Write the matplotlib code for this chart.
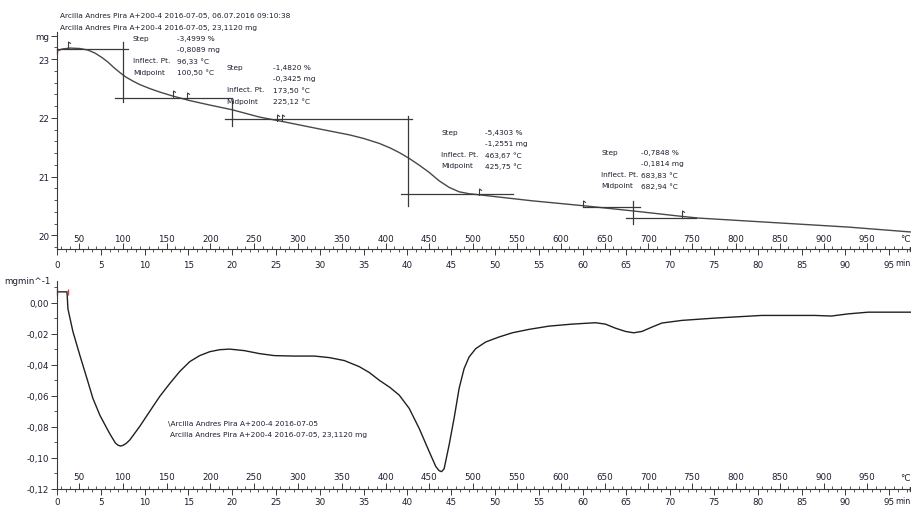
import numpy as np
import matplotlib
matplotlib.use("Agg")
import matplotlib.pyplot as plt
from matplotlib.path import Path
from matplotlib.ticker import MultipleLocator, FixedLocator, FuncFormatter

plt.rcParams['font.family'] = ['DejaVu Sans']

# Heating program: start 25 °C, 10 K/min
T_START = 25.0
RATE = 10.0


def t_to_T(t):
    return T_START + RATE * np.asarray(t, dtype=float)


def T_to_t(T):
    return (np.asarray(T, dtype=float) - T_START) / RATE


# ---- TGA: sample mass (mg) against time (min)
tga_time = [0.0, 0.57, 1.48, 2.62, 3.53, 4.33, 5.13, 5.81, 6.49, 7.18, 7.86, 8.66,
            9.45, 10.59, 11.73, 13.21, 15.15, 17.43, 19.93, 23.1, 26.0, 30.0,
            33.4, 35.0, 36.8, 38.0, 39.07, 40.21, 41.34, 42.48, 43.62, 44.76,
            45.9, 47.04, 48.18, 50.46, 54.21, 60.14, 65.6, 71.3, 73.23, 78.9,
            84.6, 90.3, 97.4]
tga_mass = [23.136, 23.170, 23.187, 23.179, 23.153, 23.102, 23.026, 22.949,
            22.855, 22.770, 22.694, 22.626, 22.566, 22.498, 22.439, 22.371,
            22.294, 22.218, 22.140, 22.014, 21.930, 21.810, 21.710, 21.650,
            21.565, 21.490, 21.410, 21.310, 21.197, 21.073, 20.930, 20.818,
            20.743, 20.710, 20.692, 20.653, 20.590, 20.505, 20.420, 20.325,
            20.296, 20.245, 20.194, 20.143, 20.060]

# ---- DTG: first derivative (mg/min) against time (min)
dtg_time = [0.0, 1.14, 1.25, 1.82, 2.62, 3.42, 4.10, 4.90, 5.69, 6.09, 6.38, 6.66,
            6.95, 7.24, 7.52, 7.9, 8.31, 9.45, 10.59, 11.73, 12.87, 14.0, 15.15,
            16.29, 17.43, 18.56, 19.7, 21.4, 23.1, 24.8, 27.1, 29.4, 31.1, 32.8,
            34.5, 35.65, 36.79, 38.0, 39.07, 40.2, 41.34, 42.48, 43.24, 43.62,
            43.9, 44.19, 44.76, 45.33, 45.9, 46.47, 47.04, 47.8, 48.94, 50.46,
            51.97, 53.87, 56.15, 58.8, 61.47, 62.6, 63.74, 64.88, 65.83, 66.78,
            67.92, 69.05, 71.33, 75.13, 80.45, 86.53, 88.4, 90.3, 92.6, 97.5]
dtg_rate = [0.0071, 0.0071, -0.0039, -0.0186, -0.0340, -0.0488, -0.0616, -0.0725,
            -0.0809, -0.0850, -0.0877, -0.0903, -0.0917, -0.0923, -0.0919,
            -0.0906, -0.0884, -0.0796, -0.0699, -0.0603, -0.0520, -0.0443,
            -0.0379, -0.0340, -0.0315, -0.0302, -0.0298, -0.0308, -0.0327,
            -0.0340, -0.0343, -0.0343, -0.0353, -0.0372, -0.0411, -0.0449,
            -0.0499, -0.0545, -0.0595, -0.0680, -0.0809, -0.0958, -0.1055,
            -0.1082, -0.1088, -0.1070, -0.0916, -0.0744, -0.0552, -0.0424,
            -0.0349, -0.0295, -0.0252, -0.0220, -0.0193, -0.0171, -0.0150,
            -0.0137, -0.0128, -0.0137, -0.0163, -0.0184, -0.0193, -0.0184,
            -0.0156, -0.0130, -0.0113, -0.0098, -0.0081, -0.0081, -0.0085,
            -0.0071, -0.0060, -0.0060]

# ---- Step evaluations
step_pct = ["-3,4999 %", "-1,4820 %", "-5,4303 %", "-0,7848 %"]
step_mg = ["-0,8089 mg", "-0,3425 mg", "-1,2551 mg", "-0,1814 mg"]
step_inflect = ["96,33 °C", "173,50 °C", "463,67 °C", "683,83 °C"]
step_mid_T = [100.50, 225.12, 425.75, 682.94]
# left/right baseline levels (mg) and their extents (min)
base_left_mg = [23.17, 22.335, 21.985, 20.48]
base_right_mg = [22.335, 21.985, 20.71, 20.30]
base_left_t = [(0.0, 8.1), (None, None), (None, None), (60.1, 66.5)]
base_right_t = [(6.6, 19.93), (19.2, 40.5), (39.3, 52.0), (65.0, 72.9)]
vert_span_mg = [(23.29, 22.27), (22.29, 21.86), (22.03, 20.50), (20.585, 20.19)]
# text block anchors (time, mass)
block_t = [8.66, 19.36, 43.85, 62.1]
block_val_t = [13.67, 24.6, 48.86, 66.65]
block_mg = [23.357, 22.864, 21.76, 21.42]

# evaluation limit flags on the TGA curve
flag_time = [1.25, 13.2, 14.8, 25.1, 25.7, 48.2, 60.1, 71.3]
flag_mass = [23.215, 22.37, 22.34, 21.975, 21.96, 20.715, 20.51, 20.33]

sample = "Arcilla Andres Pira A+200-4 2016-07-05"
header = [sample + ", 06.07.2016 09:10:38", sample + ", 23,1120 mg"]
curve_names = ["\\" + sample, sample + ", 23,1120 mg"]

INK = '#1e1e30'
LINE = '#3a3a3a'
TICK_FS = 6.3
NOTE_FS = 5.35

W, H = 912, 506
fig = plt.figure(figsize=(W / 100, H / 100), dpi=100)
x0 = 57 / W
ax1 = fig.add_axes([x0, 1 - 250 / H, 1 - x0, (250 - 33) / H])
ax2 = fig.add_axes([x0, 1 - 490 / H, 1 - x0, (490 - 282) / H])

XMAX = 97.6

flag = Path([(0, -1.0), (0, 1.0), (0.7, 0.55)],
            [Path.MOVETO, Path.LINETO, Path.LINETO])


def style_axes(ax, time_pad, temp_pad, min_dy):
    ax.set_xlim(0, XMAX)
    for s in ('top', 'right'):
        ax.spines[s].set_visible(False)
    for s in ('left', 'bottom'):
        ax.spines[s].set_linewidth(0.8)
        ax.spines[s].set_color(LINE)
    ax.xaxis.set_major_locator(MultipleLocator(5))
    ax.xaxis.set_minor_locator(MultipleLocator(1))
    ax.xaxis.set_major_formatter(FuncFormatter(lambda v, p: f"{v:.0f}"))
    ax.tick_params(axis='x', which='major', direction='out', length=4, width=0.7,
                   pad=time_pad, labelsize=TICK_FS, labelcolor=INK, color=LINE)
    ax.tick_params(axis='x', which='minor', direction='out', length=2, width=0.6,
                   color=LINE)
    ax.tick_params(axis='y', which='major', direction='out', length=4, width=0.7,
                   pad=1.5, labelsize=TICK_FS, labelcolor=INK, color=LINE)
    ax.tick_params(axis='y', which='minor', direction='out', length=2.2, width=0.6,
                   color=LINE)
    # temperature scale sharing the same baseline
    sec = ax.secondary_xaxis(0, functions=(t_to_T, T_to_t))
    sec.xaxis.set_major_locator(FixedLocator(np.arange(50, 951, 50)))
    sec.xaxis.set_minor_locator(MultipleLocator(10))
    sec.xaxis.set_major_formatter(FuncFormatter(lambda v, p: f"{v:.0f}"))
    sec.tick_params(which='major', direction='in', length=4, width=0.7, pad=temp_pad,
                    labelsize=TICK_FS, labelcolor=INK, color=LINE)
    sec.tick_params(which='minor', direction='in', length=2, width=0.6, color=LINE)
    sec.spines['bottom'].set_visible(False)
    # unit labels at the end of the axis
    ax.annotate("°C", xy=(1, 0), xycoords='axes fraction', xytext=(-1, 11),
                textcoords='offset pixels', fontsize=TICK_FS, color=INK,
                ha='right', va='center', annotation_clip=False)
    ax.annotate("min", xy=(1, 0), xycoords='axes fraction', xytext=(-1, min_dy),
                textcoords='offset pixels', fontsize=5.8, color=INK,
                ha='right', va='center', annotation_clip=False)
    ax.plot([1], [0], marker='>', ms=3, color=LINE, transform=ax.transAxes,
            clip_on=False)


# ---------------- TGA panel
style_axes(ax1, time_pad=3.8, temp_pad=-11, min_dy=-13.5)
ax1.set_ylim(19.77, 23.46)
ax1.yaxis.set_major_locator(FixedLocator([20, 21, 22, 23, 23.4]))
ax1.yaxis.set_major_formatter(FuncFormatter(
    lambda v, p: "mg" if v > 23.2 else f"{v:.0f}"))
ax1.yaxis.set_minor_locator(MultipleLocator(0.2))

ax1.plot(tga_time, tga_mass, color='#484848', lw=1.0)
ax1.plot([0], [tga_mass[0]], marker='|', ms=4, color='#d04040', clip_on=False)

for i in range(4):
    tm = float(T_to_t(step_mid_T[i]))
    if base_left_t[i][0] is not None:
        ax1.plot(base_left_t[i], [base_left_mg[i]] * 2, color=LINE, lw=0.9)
    ax1.plot(base_right_t[i], [base_right_mg[i]] * 2, color=LINE, lw=0.9)
    ax1.plot([tm, tm], vert_span_mg[i], color=LINE, lw=0.9)
    rows = [("Step", step_pct[i]), ("", step_mg[i]),
            ("Inflect. Pt.", step_inflect[i]),
            ("Midpoint", f"{step_mid_T[i]:.2f}".replace('.', ',') + " °C")]
    for r, (lab, val) in enumerate(rows):
        y = block_mg[i] - r * 0.19
        if lab:
            ax1.text(block_t[i], y, lab, fontsize=NOTE_FS, color=INK,
                     ha='left', va='center')
        ax1.text(block_val_t[i], y, val, fontsize=NOTE_FS,
                 color=INK, ha='left', va='center')

for t, m in zip(flag_time, flag_mass):
    ax1.plot([t], [m + 0.03], marker=flag, ms=5, mew=0.8, color=LINE,
             fillstyle='none')

for k, line in enumerate(header):
    fig.text(60 / W, 1 - (16 + 12 * k) / H, line, fontsize=NOTE_FS, color=INK,
             ha='left', va='center')

# ---------------- DTG panel
style_axes(ax2, time_pad=1.6, temp_pad=-12, min_dy=-11.5)
ax2.set_ylim(-0.12, 0.0141)
ax2.yaxis.set_major_locator(FixedLocator(np.arange(-0.12, 0.001, 0.02)))
ax2.yaxis.set_major_formatter(FuncFormatter(
    lambda v, p: ("0,00" if abs(v) < 1e-9 else f"{v:.2f}".replace('.', ','))))
ax2.yaxis.set_minor_locator(MultipleLocator(0.01))
ax2.text(-0.007, 1.0, "mgmin^-1", transform=ax2.transAxes, fontsize=TICK_FS,
         color=INK, ha='right', va='center')

ax2.plot(dtg_time, dtg_rate, color='#202020', lw=1.0)
ax2.plot([0, 1.2], [dtg_rate[0]] * 2, marker='|', ms=4, ls='none',
         color='#d04040', clip_on=False)

for k, line in enumerate(curve_names):
    ax2.text(12.64 + 0.25 * k, -0.0777 - 0.0071 * k, line, fontsize=NOTE_FS,
             color=INK, ha='left', va='center')

fig.savefig("out.png", dpi=100)
